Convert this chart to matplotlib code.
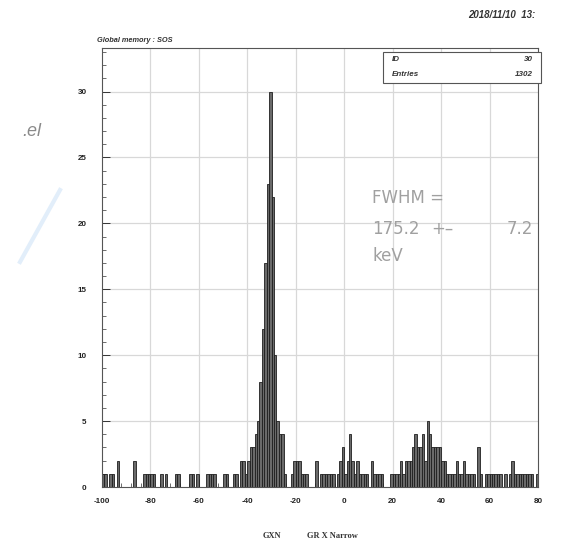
import numpy as np
import matplotlib
matplotlib.use("Agg")
import matplotlib.pyplot as plt
from matplotlib.ticker import MultipleLocator
from matplotlib.lines import Line2D

# ---- data: histogram, 1-unit bins from -100 to 80 ----
bin_lo = -100
bin_hi = 80
counts = [
    1, 1, 0, 1, 1, 0, 2, 0, 0, 0,    # -100..-91
    0, 0, 0, 2, 0, 0, 0, 1, 1, 1,    # -90..-81
    1, 1, 0, 0, 1, 0, 1, 0, 0, 0,    # -80..-71
    1, 1, 0, 0, 0, 0, 1, 1, 0, 1,    # -70..-61
    0, 0, 0, 1, 1, 1, 1, 0, 0, 0,    # -60..-51
    1, 1, 0, 0, 1, 1, 0, 2, 2, 1,    # -50..-41
    2, 3, 3, 4, 5, 8, 12, 17, 23, 30,  # -40..-31
    22, 10, 5, 4, 4, 1, 0, 0, 1, 2,  # -30..-21
    2, 2, 1, 1, 1, 0, 0, 0, 2, 0,    # -20..-11
    1, 1, 1, 1, 1, 1, 0, 1, 2, 3,    # -10..-1
    1, 2, 4, 2, 1, 2, 1, 1, 1, 1,    # 0..9
    0, 2, 1, 1, 1, 1, 0, 0, 0, 1,    # 10..19
    1, 1, 1, 2, 1, 2, 2, 2, 3, 4,    # 20..29
    3, 3, 4, 2, 5, 4, 3, 3, 3, 3,    # 30..39
    2, 2, 1, 1, 1, 1, 2, 1, 1, 2,    # 40..49
    1, 1, 1, 1, 0, 3, 1, 0, 1, 1,    # 50..59
    1, 1, 1, 1, 1, 0, 1, 0, 1, 2,    # 60..69
    1, 1, 1, 1, 1, 1, 1, 1, 0, 1,    # 70..79
]
edges = np.arange(bin_lo, bin_hi + 1, 1)

hist_title = "Global memory : SOS"
stat_id = "30"
stat_entries = "1302"
date_text = "2018/11/10  13:"
fit_line1 = "FWHM ="
fit_value = "175.2"
fit_pm = "+\u2013"
fit_error = "7.2"
fit_unit = "keV"
xlabel_left = "GXN"
xlabel_right = "GR X Narrow"
xticks = [-100, -80, -60, -40, -20, 0, 20, 40, 60, 80]
yticks = [0, 5, 10, 15, 20, 25, 30]

W, H = 577, 558
fig = plt.figure(figsize=(W / 100, H / 100), dpi=100)
fig.patch.set_facecolor("white")

def fx(px):
    return px / W

def fy(py):
    return 1 - py / H

ax_l, ax_r, ax_t, ax_b = 102, 538, 48, 487
ax = fig.add_axes([fx(ax_l), fy(ax_b), fx(ax_r) - fx(ax_l), fy(ax_t) - fy(ax_b)])
ax.set_xlim(-100, 80)
ax.set_ylim(0, 33.3)

# faint scanned grid
for v in xticks[1:-1]:
    ax.axvline(v, color="#d8d8d8", lw=0.9, zorder=0)
for v in yticks[1:]:
    ax.axhline(v, color="#d8d8d8", lw=0.9, zorder=0)

centers = edges[:-1] + 0.5
ax.bar(centers, counts, width=1.0, facecolor="#6a6a6a", edgecolor="#1e1e1e",
       linewidth=0.6, zorder=2)

ax.xaxis.set_major_locator(MultipleLocator(20))
ax.xaxis.set_minor_locator(MultipleLocator(4))
ax.yaxis.set_major_locator(MultipleLocator(5))
ax.yaxis.set_minor_locator(MultipleLocator(1))
ax.set_xticks(xticks)
ax.set_yticks(yticks)
ax.tick_params(which="major", direction="in", length=6, width=0.7, colors="#333333",
               labelsize=5.8, top=False, right=False)
ax.tick_params(which="minor", direction="in", length=3, width=0.6, colors="#555555",
               top=False, right=False)
ax.set_xticklabels([str(v) for v in xticks], fontweight="bold", family="Liberation Sans",
                   color="#222222")
ax.set_yticklabels([str(v) for v in yticks], fontweight="bold", family="Liberation Sans",
                   color="#222222")
ax.tick_params(axis="y", pad=11)
ax.tick_params(axis="x", pad=8)
for s in ax.spines.values():
    s.set_color("#555555")
    s.set_linewidth(0.8)

# stats box
bx0, bx1, by0, by1 = 383, 541, 52, 83
fig.patches.append(plt.Rectangle((fx(bx0), fy(by1)), fx(bx1) - fx(bx0), fy(by0) - fy(by1),
                                 transform=fig.transFigure, facecolor="white",
                                 edgecolor="#555555", lw=0.8, zorder=5))
stat_kw = dict(fontsize=5.8, style="italic", fontweight="bold", family="Liberation Sans",
               color="#333333", va="center", zorder=7)
fig.text(fx(392), fy(59), "ID", **stat_kw)
fig.text(fx(533), fy(59), stat_id, ha="right", **stat_kw)
fig.text(fx(392), fy(75), "Entries", **stat_kw)
fig.text(fx(533), fy(75), stat_entries, ha="right", **stat_kw)

# title and date
fig.text(fx(97), fy(41), hist_title, fontsize=5.3, style="italic", fontweight="bold",
         family="Liberation Sans", color="#333333", va="center")
fig.text(fx(468), fy(15), date_text, fontsize=7, style="italic", fontweight="bold",
         family="Liberation Sans", color="#333333", va="center")

# fit annotation
fit_kw = dict(fontsize=12, family="DejaVu Sans", color="#a0a0a0", va="center")
fig.text(fx(372), fy(198), fit_line1, **fit_kw)
fig.text(fx(372), fy(229), fit_value, **fit_kw)
fig.text(fx(431), fy(229), fit_pm, **fit_kw)
fig.text(fx(533), fy(229), fit_error, ha="right", **fit_kw)
fig.text(fx(372), fy(256), fit_unit, **fit_kw)

# x axis labels
fig.text(fx(263), fy(536), xlabel_left, fontsize=6, family="Liberation Serif",
         fontweight="bold", color="#333333", va="center")
fig.text(fx(307), fy(536), xlabel_right, fontsize=6, family="Liberation Serif",
         fontweight="bold", color="#333333", va="center")

# scan leftovers
fig.text(fx(22), fy(132), ".el", fontsize=13, style="italic", family="Liberation Sans",
         color="#8a8a8a", va="center")
fig.lines.append(Line2D([fx(60), fx(20)], [fy(190), fy(262)], transform=fig.transFigure,
                        color="#e2eefa", lw=3, zorder=0))

fig.savefig("out.png", dpi=100, facecolor="white")
